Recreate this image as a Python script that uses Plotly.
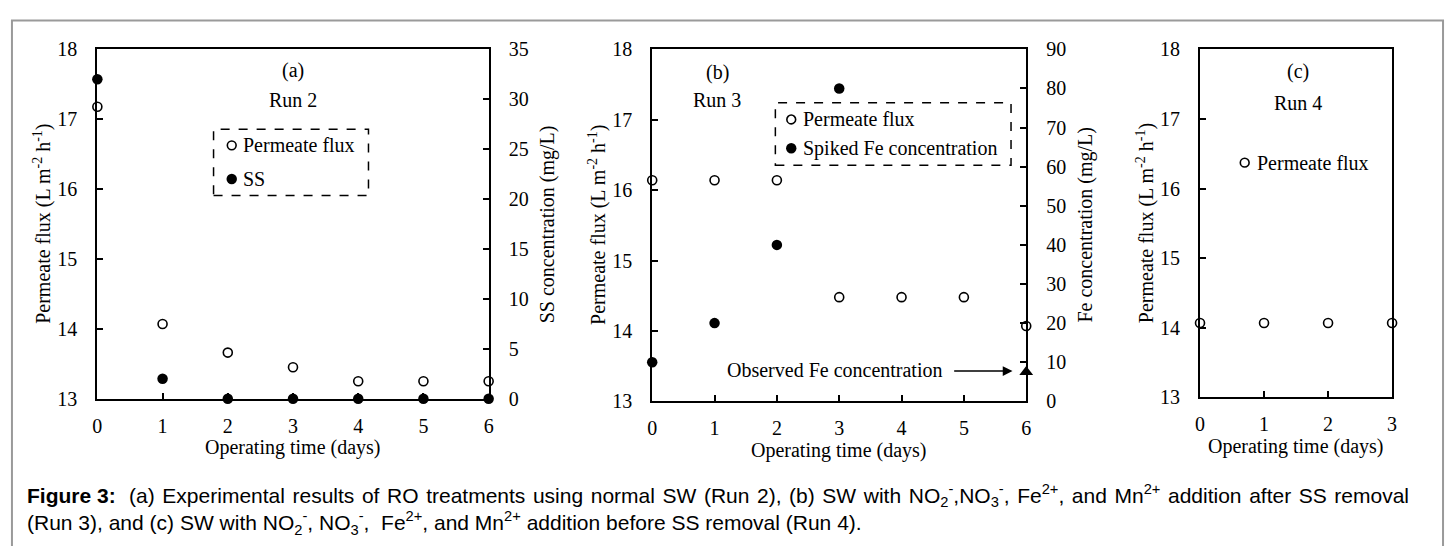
import plotly.graph_objects as go

W, H = 1453, 546

# ---------------- data ----------------
days_a = [0, 1, 2, 3, 4, 5, 6]
flux_a = [17.18, 14.07, 13.66, 13.45, 13.25, 13.25, 13.25]
ss_a = [32, 2, 0, 0, 0, 0, 0]

days_b = [0, 1, 2, 3, 4, 5, 6]
flux_b = [16.14, 16.14, 16.14, 14.48, 14.48, 14.48, 14.07]
days_fe_spiked = [0, 1, 2, 3]
fe_spiked = [10, 20, 40, 80]
days_fe_observed = [6]
fe_observed = [7.5]

days_c = [0, 1, 2, 3]
flux_c = [14.07, 14.07, 14.07, 14.07]

flux_ticks = [13, 14, 15, 16, 17, 18]
ss_ticks = [0, 5, 10, 15, 20, 25, 30, 35]
fe_ticks = [0, 10, 20, 30, 40, 50, 60, 70, 80, 90]

SERIF = "Liberation Serif, Times New Roman, serif"
SANS = "Liberation Sans, Arial, sans-serif"
FS = 20


def px(x):
    return x / W


def py(y):
    return 1 - y / H


open_marker = dict(symbol="circle", size=9, color="white", line=dict(color="black", width=1.6))
filled_marker = dict(symbol="circle", size=10.5, color="black", line=dict(color="black", width=0))

fig = go.Figure()

# Panel (a)
fig.add_trace(go.Scatter(x=days_a, y=flux_a, mode="markers", marker=open_marker,
                         xaxis="x", yaxis="y", cliponaxis=False, name="Permeate flux", showlegend=False))
fig.add_trace(go.Scatter(x=days_a, y=ss_a, mode="markers", marker=filled_marker,
                         xaxis="x", yaxis="y2", cliponaxis=False, name="SS", showlegend=False))
# Panel (b)
fig.add_trace(go.Scatter(x=days_b, y=flux_b, mode="markers", marker=open_marker,
                         xaxis="x2", yaxis="y3", cliponaxis=False, name="Permeate flux", showlegend=False))
fig.add_trace(go.Scatter(x=days_fe_spiked, y=fe_spiked, mode="markers", marker=filled_marker,
                         xaxis="x2", yaxis="y4", cliponaxis=False, name="Spiked Fe concentration", showlegend=False))
fig.add_trace(go.Scatter(x=days_fe_observed, y=fe_observed, mode="markers",
                         marker=dict(symbol="triangle-up", size=12, color="black"),
                         xaxis="x2", yaxis="y4", cliponaxis=False, name="Observed Fe concentration", showlegend=False))
# Panel (c)
fig.add_trace(go.Scatter(x=days_c, y=flux_c, mode="markers", marker=open_marker,
                         xaxis="x3", yaxis="y5", cliponaxis=False, name="Permeate flux", showlegend=False))

axis_common = dict(showline=True, linewidth=2, linecolor="black", ticks="inside", ticklen=6,
                   tickwidth=1.5, tickcolor="black", showgrid=False, zeroline=False,
                   tickfont=dict(family=SERIF, size=FS, color="black"))

def xax(domain, rng, anchor, vals):
    d = dict(axis_common)
    d.update(domain=domain, range=rng, anchor=anchor, tickvals=vals, mirror=True,
             ticklabelstandoff=8)
    return d

def yax(domain, rng, anchor, vals, side="left", overlaying=None, mirror=True):
    d = dict(axis_common)
    d.update(domain=domain, range=rng, anchor=anchor, tickvals=vals, side=side,
             ticklabelstandoff=14)
    if overlaying:
        d["overlaying"] = overlaying
    else:
        d["mirror"] = mirror
    return d

xa = [px(93), px(487)]
xb = [px(651.7), px(1028.3)]
xc = [px(1203.3), px(1396.7)]
ya = [py(404), py(40)]
yb = [py(406.7), py(40)]
yc = [py(402.7), py(40)]

fig.update_layout(
    width=W, height=H,
    margin=dict(l=0, r=0, t=0, b=0),
    paper_bgcolor="white", plot_bgcolor="white",
    showlegend=False,
    xaxis=xax(xa, [0, 6], "y", days_a),
    yaxis=yax(ya, [13, 18], "x", flux_ticks),
    yaxis2=yax(ya, [0, 35], "x", ss_ticks, side="right", overlaying="y"),
    xaxis2=xax(xb, [0, 6], "y3", days_b),
    yaxis3=yax(yb, [13, 18], "x2", flux_ticks),
    yaxis4=yax(yb, [0, 90], "x2", fe_ticks, side="right", overlaying="y3"),
    xaxis3=xax(xc, [0, 3], "y5", days_c),
    yaxis5=yax(yc, [13, 18], "x3", flux_ticks),
)

ann = []
def text(x, y, t, size=FS, family=SERIF, xanchor="center", angle=0, align="center"):
    ann.append(dict(x=px(x), y=py(y), xref="paper", yref="paper", text=t, showarrow=False,
                    xanchor=xanchor, yanchor="middle", textangle=angle, align=align,
                    font=dict(family=family, size=size, color="black")))

flux_title = "Permeate flux (L m<sup>-2</sup> h<sup>-1</sup>)"
# axis titles
text(37, 222, flux_title, angle=-90)
text(546, 222, "SS concentration (mg/L)", angle=-90)
text(596, 223, flux_title, angle=-90)
text(1087, 223, "Fe concentration (mg/L)", angle=-90)
text(1148, 221, flux_title, angle=-90)
text(290, 455, "Operating time (days)")
text(840, 458, "Operating time (days)")
text(1300, 454, "Operating time (days)")

# panel labels
text(290, 62, "(a)")
text(290, 93, "Run 2")
text(717, 64, "(b)")
text(717, 93, "Run 3")
text(1302, 63, "(c)")
text(1302, 96, "Run 4")

# legend texts
text(238, 140, "Permeate flux", xanchor="left")
text(238, 175, "SS", xanchor="left")
text(802, 113, "Permeate flux", xanchor="left")
text(802, 143, "Spiked Fe concentration", xanchor="left")
text(1259, 158, "Permeate flux", xanchor="left")

# observed Fe annotation
text(835, 374, "Observed Fe concentration")
ann.append(dict(x=5.78, y=13.43, xref="x2", yref="y3", ax=4.82, ay=13.43, axref="x2", ayref="y3",
                text="", showarrow=True, arrowhead=2, arrowsize=1.3, arrowwidth=1.5, arrowcolor="black"))

# caption (first line justified with hair spaces)
TS = " \u200a"
cap1_words = ["<b>Figure 3:</b> ", "(a)", "Experimental", "results", "of", "RO", "treatments",
              "using", "normal", "SW", "(Run", "2),", "(b)", "SW", "with",
              "NO<sub>2</sub><sup>-</sup>,NO<sub>3</sub><sup>-</sup>,", "Fe<sup>2+</sup>,", "and",
              "Mn<sup>2+</sup>", "addition", "after", "SS", "removal"]
cap1 = TS.join(cap1_words)
cap2 = ("(Run 3), and (c) SW with NO<sub>2</sub><sup>-</sup>, NO<sub>3</sub><sup>-</sup>,  Fe<sup>2+</sup>, "
        "and Mn<sup>2+</sup> addition before SS removal (Run 4).")
text(20, 519, cap1 + "<br>" + cap2, size=21, family=SANS, xanchor="left", align="left")

fig.update_layout(annotations=ann)

shapes = []
# outer frame
shapes.append(dict(type="rect", xref="paper", yref="paper", x0=px(7), x1=px(1448), y0=py(560), y1=py(10),
                   line=dict(color="#9a9a9a", width=2), fillcolor="rgba(0,0,0,0)", layer="below"))
# dashed legend boxes
shapes.append(dict(type="rect", xref="paper", yref="paper", x0=px(210), x1=px(366), y0=py(192.3), y1=py(123.3),
                   line=dict(color="black", width=1.5, dash="dash")))
shapes.append(dict(type="rect", xref="paper", yref="paper", x0=px(775.7), x1=px(1013), y0=py(160.7), y1=py(95.7),
                   line=dict(color="black", width=1.5, dash="dash")))

# legend keys
def key(x, y, filled):
    r = 5.2 if filled else 4.4
    shapes.append(dict(type="circle", xref="paper", yref="paper", xsizemode="pixel", ysizemode="pixel",
                       xanchor=px(x), yanchor=py(y), x0=-r, x1=r, y0=-r, y1=r,
                       fillcolor="black" if filled else "white",
                       line=dict(color="black", width=0 if filled else 1.6)))

key(228.3, 140, False)
key(228.3, 175, True)
key(791.7, 113, False)
key(791.7, 143, True)
key(1248.3, 158, False)

fig.update_layout(shapes=shapes)

fig.write_html("out.html")
